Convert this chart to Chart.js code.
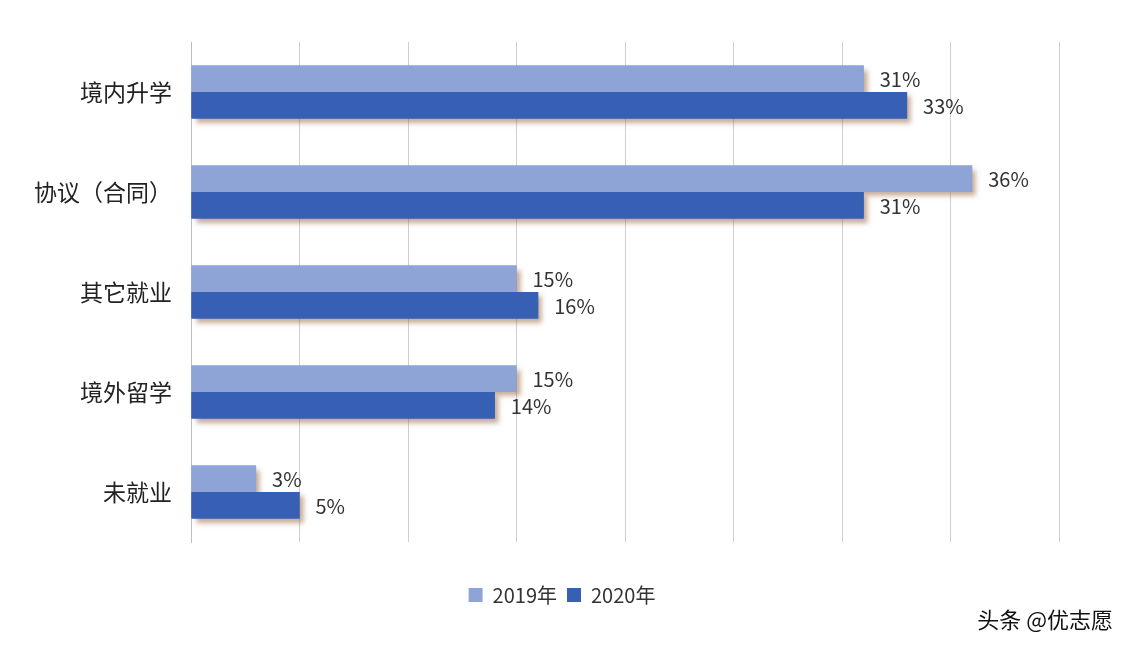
<!DOCTYPE html>
<html>
<head>
<meta charset="utf-8">
<script src="https://cdn.jsdelivr.net/npm/chart.js@4/dist/chart.umd.min.js"></script>
<style>
  html, body { margin: 0; padding: 0; background: #fff; }
  #wrap { width: 1132px; height: 650px; position: relative; }
</style>
</head>
<body>
<div id="wrap"><canvas id="myChart" width="1132" height="650"></canvas></div>
<script>
const categories = ['境内升学', '协议（合同）', '其它就业', '境外留学', '未就业'];
const seriesNames = ['2019年', '2020年'];
const values2019 = [31, 36, 15, 15, 3];
const values2020 = [33, 31, 16, 14, 5];

const lightBlue = 'rgb(142,163,214)';
const darkBlue = 'rgb(55,96,180)';
const FONT = "'Noto Sans CJK SC', 'Noto Sans', sans-serif";

// drop shadows drawn first, so the next bar covers the one above it
const barShadow = {
  id: 'barShadow',
  beforeDatasetsDraw(chart) {
    const c = chart.ctx;
    c.save();
    c.shadowColor = 'rgba(150,100,60,0.55)';
    c.shadowBlur = 5;
    c.shadowOffsetX = 4;
    c.shadowOffsetY = 4;
    chart.data.datasets.forEach((ds, i) => {
      c.fillStyle = ds.backgroundColor;
      chart.getDatasetMeta(i).data.forEach((bar) => {
        const p = bar.getProps(['x', 'y', 'base', 'height'], true);
        c.fillRect(p.base, p.y - p.height / 2, p.x - p.base, p.height);
      });
    });
    c.restore();
  }
};

// value labels right of each bar
const valueLabels = {
  id: 'valueLabels',
  afterDatasetsDraw(chart) {
    const c = chart.ctx;
    c.save();
    c.font = '20px ' + FONT;
    c.fillStyle = '#333';
    c.textAlign = 'left';
    c.textBaseline = 'middle';
    chart.data.datasets.forEach((ds, i) => {
      chart.getDatasetMeta(i).data.forEach((bar, j) => {
        c.fillText(ds.data[j] + '%', bar.x + 16, bar.y + 1);
      });
    });
    c.restore();
  }
};

// legend sits a bit right of the canvas centre
const legendShift = {
  id: 'legendShift',
  afterLayout(chart) {
    if (chart.legend) {
      chart.legend.left = 65;
      chart.legend.right = 1059;
    }
  }
};

// source mark bottom right
const sourceMark = {
  id: 'sourceMark',
  afterDraw(chart) {
    const c = chart.ctx;
    c.save();
    c.font = '22px ' + FONT;
    c.fillStyle = '#111';
    c.textAlign = 'right';
    c.textBaseline = 'middle';
    c.fillText('头条 @优志愿', 1113, 620);
    c.restore();
  }
};

const ctx = document.getElementById('myChart');

new Chart(ctx, {
  type: 'bar',
  data: {
    labels: categories,
    datasets: [
      {
        label: seriesNames[0],
        data: values2019,
        backgroundColor: lightBlue,
        borderWidth: 0,
        categoryPercentage: 0.53,
        barPercentage: 1.0,
      },
      {
        label: seriesNames[1],
        data: values2020,
        backgroundColor: darkBlue,
        borderWidth: 0,
        categoryPercentage: 0.53,
        barPercentage: 1.0,
      },
    ],
  },
  options: {
    indexAxis: 'y',
    responsive: false,
    animation: false,
    devicePixelRatio: 1,
    layout: {
      padding: { left: 0, right: 73, top: 42, bottom: 35 },
    },
    scales: {
      x: {
        min: 0,
        max: 40,
        ticks: { display: false, stepSize: 5 },
        grid: { color: '#cfcfcf', drawTicks: false, lineWidth: 1 },
        border: { display: false },
        afterFit: (s) => { s.height = 33; },
      },
      y: {
        ticks: {
          color: '#222',
          font: { size: 23, family: FONT },
          padding: 19,
        },
        grid: { display: false, drawTicks: false },
        border: { display: true, color: '#bdbdbd' },
        afterFit: (s) => { s.width = 191; },
      },
    },
    plugins: {
      legend: {
        position: 'bottom',
        labels: {
          boxWidth: 14,
          boxHeight: 14,
          padding: 10,
          color: '#333',
          font: { size: 20, family: FONT },
        },
      },
      tooltip: { enabled: false },
    },
  },
  plugins: [barShadow, valueLabels, legendShift, sourceMark],
});
</script>
</body>
</html>
